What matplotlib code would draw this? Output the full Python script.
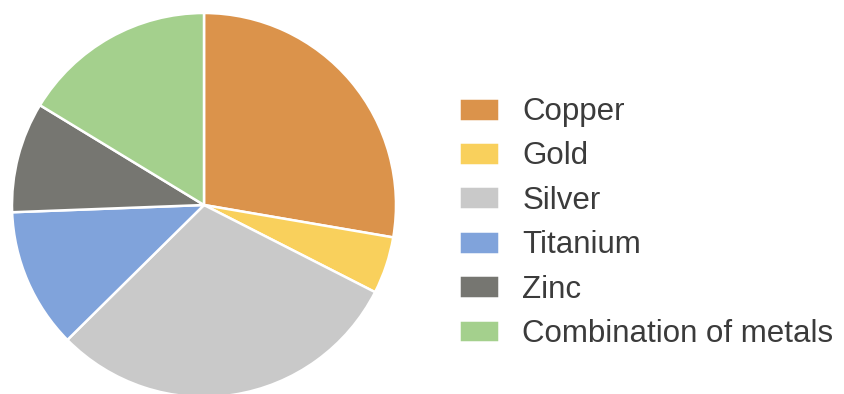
import matplotlib
matplotlib.use('Agg')
import matplotlib.pyplot as plt

# share of each metal
metals = ['Copper', 'Gold', 'Silver', 'Titanium', 'Zinc', 'Combination of metals']
shares = [27.7, 4.8, 30.1, 11.8, 9.3, 16.3]
colors = ['#DB934B', '#F9D05C', '#C9C9C9', '#80A3DB', '#767671', '#A4D08D']

plt.rcParams['font.family'] = ['Liberation Sans', 'DejaVu Sans']

fig = plt.figure(figsize=(8.44, 3.94), dpi=100)
ax = fig.add_axes([12 / 844, -3 / 394, 384 / 844, 384 / 394])

wedges, _ = ax.pie(shares, colors=colors, startangle=90, counterclock=False,
                   radius=1, wedgeprops={'edgecolor': 'white', 'linewidth': 1.8})
ax.set_xlim(-1, 1)
ax.set_ylim(-1, 1)
ax.set_aspect('equal')
ax.axis('off')

fig.legend(wedges, metals, loc='center left', bbox_to_anchor=(459 / 844, 0.434),
           frameon=False, fontsize=22.5, handlelength=1.28, handleheight=0.75,
           handletextpad=0.75, labelspacing=0.46, borderpad=0, borderaxespad=0,
           labelcolor='#3b3b3b')

fig.savefig('out.png', dpi=100)
